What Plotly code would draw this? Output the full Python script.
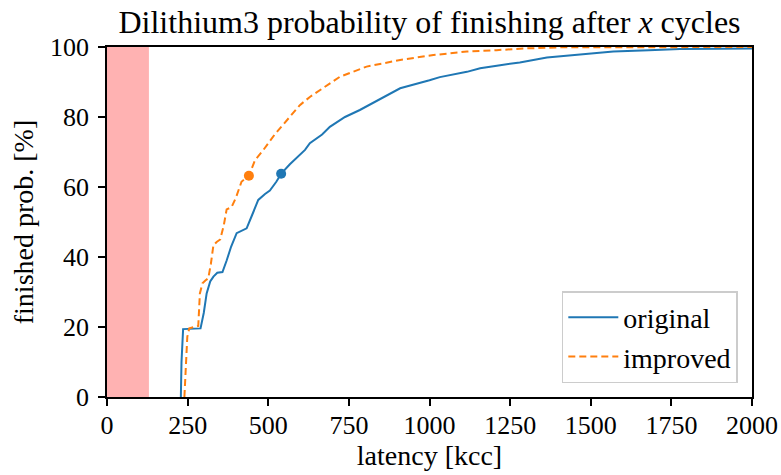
import plotly.graph_objects as go

# ---- data ----
orig_x = [229, 231, 236, 260, 290, 300, 309, 320, 330, 342, 358, 371, 385, 402, 420, 433,
          450, 469, 490, 505, 525, 541, 567, 598, 614, 629, 667, 691, 738, 784, 845, 909,
          1000, 1032, 1116, 1157, 1219, 1280, 1364, 1467, 1570, 1680, 1777, 1900, 2000]
orig_y = [0, 10, 19.4, 19.5, 19.6, 24, 29.6, 33, 34.4, 35.5, 35.7, 39, 43, 46.8, 47.7, 48.2,
          52, 56.3, 58, 59, 61.5, 63.9, 66.5, 69.1, 70.6, 72.5, 75, 77.2, 80, 82, 85, 88.2,
          90.5, 91.4, 92.9, 93.9, 94.8, 95.6, 97, 97.9, 98.7, 99.1, 99.4, 99.5, 99.6]

impr_x = [240, 245, 249, 255, 270, 283, 288, 296, 305, 314, 322, 330, 340, 351, 362, 371,
          386, 400, 417, 440, 459, 485, 520, 567, 598, 630, 660, 722, 805, 909, 1012, 1116,
          1208, 1300, 1400, 1600, 2000]
impr_y = [0, 8, 17.2, 19.6, 20, 20.3, 29.6, 32.5, 33.3, 33.9, 38, 43.4, 44.3, 45, 49, 53.6,
          54.2, 57, 61.5, 63.2, 67.7, 70.6, 75, 80, 83.4, 85.8, 87.7, 91.5, 94.4, 96.3, 97.7, 98.7,
          99.1, 99.6, 99.9, 100, 100]

median_x = [540, 440]
median_y = [63.8, 63.2]

span_x = [0, 130]

x_ticks = [0, 250, 500, 750, 1000, 1250, 1500, 1750, 2000]
y_ticks = [0, 20, 40, 60, 80, 100]

BLUE = "#1f77b4"
ORANGE = "#ff7f0e"
FONT = "Liberation Serif"

fig = go.Figure()
fig.add_trace(go.Scatter(x=orig_x, y=orig_y, mode="lines", name="original",
                         line=dict(color=BLUE, width=2)))
fig.add_trace(go.Scatter(x=impr_x, y=impr_y, mode="lines", name="improved",
                         line=dict(color=ORANGE, width=2, dash="7px,4px")))
fig.add_trace(go.Scatter(x=[median_x[0]], y=[median_y[0]], mode="markers", showlegend=False,
                         marker=dict(color=BLUE, size=10)))
fig.add_trace(go.Scatter(x=[median_x[1]], y=[median_y[1]], mode="markers", showlegend=False,
                         marker=dict(color=ORANGE, size=10)))

fig.add_shape(type="rect", xref="x", yref="paper", x0=span_x[0], x1=span_x[1], y0=0, y1=1,
              fillcolor="rgba(255,0,0,0.3)", line=dict(width=0), layer="below")

axis_common = dict(showline=True, mirror=True, linecolor="black", linewidth=1.5,
                   ticks="outside", ticklen=7, tickwidth=1.5, tickcolor="black",
                   showgrid=False, zeroline=False, automargin=False,
                   tickfont=dict(family=FONT, size=26, color="black"))

fig.update_layout(
    width=781, height=475,
    margin=dict(l=107, r=29, t=47, b=78),
    paper_bgcolor="white", plot_bgcolor="white",
    font=dict(family=FONT, size=26, color="black"),
    title=dict(text="Dilithium3 probability of finishing after <i>x</i> cycles",
               x=0.5, xref="paper", xanchor="center",
               y=1 - 22 / 475, yref="container", yanchor="middle",
               font=dict(family=FONT, size=32, color="black")),
    xaxis=dict(range=[0, 2000], tickvals=x_ticks, ticktext=[str(v) for v in x_ticks],
               ticklabelstandoff=-3,
               title=dict(text="latency [kcc]", standoff=6,
                          font=dict(family=FONT, size=28, color="black")),
               **axis_common),
    yaxis=dict(range=[0, 100], tickvals=y_ticks, ticktext=[str(v) for v in y_ticks],
               ticklabelstandoff=4,
               title=dict(text="finished prob. [%]", standoff=8,
                          font=dict(family=FONT, size=28, color="black")),
               **axis_common),
    legend=dict(x=0.978, y=0.04, xanchor="right", yanchor="bottom",
                bgcolor="white", bordercolor="#cccccc", borderwidth=1.5,
                font=dict(family=FONT, size=28, color="black"),
                itemwidth=50, tracegroupgap=0),
    showlegend=True,
)

fig.write_html("out.html", config={"displayModeBar": False},
               post_script="document.body.style.margin='0';")
